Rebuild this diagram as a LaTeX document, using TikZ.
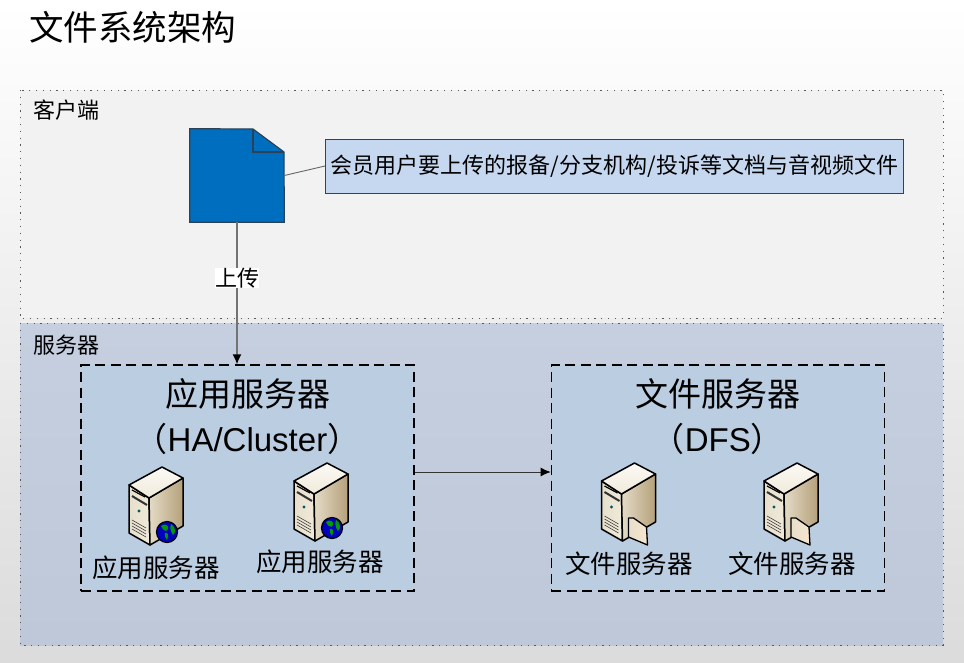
\documentclass[tikz,border=0pt]{standalone}
\usepackage{fontspec}
\usetikzlibrary{positioning,arrows.meta}
\newfontfamily\cjk{Noto Sans CJK SC}
\newfontfamily\latinsans{Liberation Sans}
\definecolor{panelfill}{HTML}{F2F2F2}
\definecolor{servertop}{HTML}{C5CFDF}
\definecolor{serverbottom}{HTML}{BEC8D8}
\definecolor{boxfill}{HTML}{BBCDE1}
\definecolor{notefill}{HTML}{C6D8F0}
\definecolor{docblue}{HTML}{006EBE}
\definecolor{docedge}{HTML}{2A4258}
\definecolor{tan}{HTML}{B5A07A}
\definecolor{cream}{HTML}{F0EADA}
\tikzset{
	heading/.style = {font=\cjk\fontsize{33}{33}\selectfont, align=center, inner sep=0pt},
	tag/.style = {font=\cjk\fontsize{22}{22}\selectfont, inner sep=0pt},
	caption/.style = {font=\cjk\fontsize{25.5}{25.5}\selectfont, inner sep=0pt},
	group/.style = {draw=black, line width=1.3pt, dash pattern=on 10pt off 5.5pt, fill=boxfill, minimum width=333pt, minimum height=226pt},
	panel/.style = {draw=black!65, line width=.9pt, dash pattern=on 1.2pt off 5.6pt},
	host/.pic = {
		\draw[black, line width=1.5pt, line join=round, left color=cream!85!tan, right color=cream] (-27,-20) -- (-7,-7) -- (-6,40) -- (-27,28) -- cycle;
		\draw[black, line width=1.5pt, line join=round, left color=cream!80!tan, right color=tan] (-7,-7) -- (27,-27) -- (27,21) -- (-6,40) -- cycle;
		\draw[black, line width=1.5pt, line join=round, top color=cream!25, bottom color=cream] (-27,-20) -- (6,-38) -- (27,-27) -- (-7,-7) -- cycle;
		% Front panel
		\draw[black, line width=1.2pt] (-24,-15) -- (-11,-8);
		\draw[black!80, line width=2pt] (-24,-9) -- (-9,0);
		\fill[teal!70!black] (-17,6) circle (1.6pt);
		\foreach \i in {0,3,6,9}
			\draw[black!75, line width=.6pt] (-24,15+\i) -- (-10,23+\i);
	},
	webbadge/.pic = {
		\draw[black, line width=1.2pt, fill=blue!75!black] (0,0) circle (10.5pt);
		\fill[green!60!black] (-6,-6) .. controls (-2,-9) and (2,-7) .. (1,-3) .. controls (0,0) and (-4,-1) .. (-6,-6);
		\fill[green!60!black] (-2,1) .. controls (1,0) and (2,3) .. (0,8) .. controls (-2,5) and (-3,3) .. (-2,1);
		\fill[green!60!black] (4,-8) .. controls (9,-5) and (9,1) .. (6,3) .. controls (3,-1) and (3,-5) .. (4,-8);
	},
	filebadge/.pic = {
		\draw[black, line width=1.3pt, line join=round, left color=cream!85!tan, right color=cream!80!orange!60] (0,0) -- (5,0) -- (18,9) -- (19,27) -- (0,19) -- cycle;
	},
}
\begin{document}
\begin{tikzpicture}[x=1pt, y=-1pt, semithick]
		\useasboundingbox (0,0) rectangle (964,662);
		\shade[top color=white, bottom color=black!14] (0,0) rectangle (964,662);
		% Panels
		\draw[panel, fill=panelfill] (20,90) rectangle (943,318);
		\shade[top color=servertop, bottom color=serverbottom] (20,323) rectangle (943,645);
		\draw[panel] (20,323) rectangle (943,645);
		% Nodes
		\node[anchor=west, inner sep=0pt, font=\cjk\fontsize{34.5}{34.5}\selectfont] (title) at (29,27) {文件系统架构};
		\node[tag, anchor=west] (client) at (33,110) {客户端};
		\node[tag, anchor=west] (server) at (33,345) {服务器};
		\node[minimum width=94pt, minimum height=93pt, inner sep=0pt] (doc) at (237,175.5) {};
		\node[draw=black!75, line width=1pt, fill=notefill, minimum width=578pt, minimum height=54pt, inner sep=0pt, font=\cjk\fontsize{22}{22}\selectfont] (note) at (614.5,166) {会员用户要上传的报备/分支机构/投诉等文档与音视频文件};
		\node[group] (appbox) at (247.5,478) {};
		\node[group, right=136pt of appbox] (filebox) {};
		\node[heading, below=14pt of appbox.north] (apptitle) {应用服务器};
		\node[heading, below=13pt of apptitle] (appsub) {（{\latinsans\fontsize{33}{33}\selectfont HA/Cluster}）};
		\node[heading, below=14pt of filebox.north] (filetitle) {文件服务器};
		\node[heading, below=13pt of filetitle] (filesub) {（{\latinsans\fontsize{33}{33}\selectfont DFS}）};
		\node[caption] (app1) at (156,568) {应用服务器};
		\node[caption] (app2) at (320,562) {应用服务器};
		\node[caption] (file1) at (629,564) {文件服务器};
		\node[caption] (file2) at (792,564) {文件服务器};
		% Document shape
		\draw[docedge, line width=1.2pt, fill=docblue] (doc.north west) -- (253,129) -- (284,152) -- (doc.south east) -- (doc.south west) -- cycle;
		\draw[docedge, line width=1.2pt] (253,129) -- (253,152) -- (284,152);
		% Servers
		\pic at (156,505) {host};
		\pic at (167,532) {webbadge};
		\pic at (321,501) {host};
		\pic at (332,528) {webbadge};
		\pic at (628.5,501) {host};
		\pic at (628.5,518) {filebadge};
		\pic at (791,501) {host};
		\pic at (791,518) {filebadge};
		%Arrows
		\draw[black!60, line width=.9pt] (doc.east) -- (note.west);
		\draw[black!55, line width=1.5pt, -{Latex[black,length=10pt,width=9pt]}] (doc.south) -- (doc.south |- appbox.north);
		\node[fill=white, inner sep=1pt, tag] (upload) at (237,278) {上传};
		\draw[black!80, line width=.8pt, -{Latex[black,length=10pt,width=9pt]}] ([yshift=6pt]appbox.east) -- ([yshift=6pt]filebox.west);
	\end{tikzpicture}
\end{document}
